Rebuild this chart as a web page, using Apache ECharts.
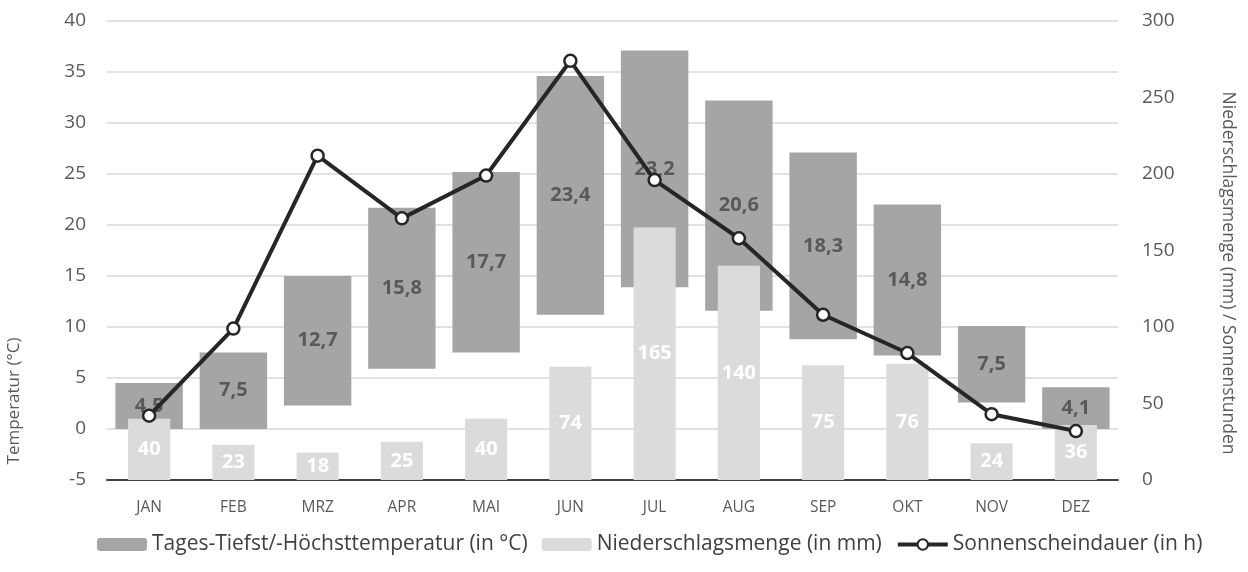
<!DOCTYPE html>
<html>
<head>
<meta charset="utf-8">
<script src="https://cdn.jsdelivr.net/npm/echarts@6/dist/echarts.min.js"></script>
<style>
html,body{margin:0;padding:0;background:#fff;}
#main{width:1248px;height:572px;}
</style>
</head>
<body>
<div id="main"></div>
<script>
// Monate
var months = ['JAN','FEB','MRZ','APR','MAI','JUN','JUL','AUG','SEP','OKT','NOV','DEZ'];
// Tagestiefst (Basis) und Spanne bis Höchsttemperatur
var tempMin = [0, 0, 2.3, 5.9, 7.5, 11.2, 13.9, 11.6, 8.8, 7.2, 2.6, 0];
var tempRange = [4.5, 7.5, 12.7, 15.8, 17.7, 23.4, 23.2, 20.6, 18.3, 14.8, 7.5, 4.1];
// Niederschlag (mm)
var rain = [40, 23, 18, 25, 40, 74, 165, 140, 75, 76, 24, 36];
// Sonnenstunden
var sun = [42, 99, 212, 171, 199, 274, 196, 158, 108, 83, 43, 32];

var font = 'Open Sans';
var myChart = echarts.init(document.getElementById('main'));
var option = {
	animation: false,
	textStyle: { fontFamily: font },
	grid: { left: 107, right: 130, top: 21, bottom: 92 },
	legend: {
		bottom: 12,
		left: 92,
		itemWidth: 50,
		itemHeight: 13,
		itemGap: 14,
		textStyle: { fontSize: 21, color: '#404040', fontFamily: font },
		data: [
			'Tages-Tiefst/-Höchsttemperatur (in °C)',
			'Niederschlagsmenge (in mm)',
			{ name: 'Sonnenscheindauer (in h)', lineStyle: { width: 4 } }
		]
	},
	xAxis: [
		{
			type: 'category',
			data: months,
			axisLine: { onZero: false, lineStyle: { color: '#404040', width: 2 } },
			axisTick: { show: false },
			axisLabel: { color: '#595959', fontSize: 15.5, margin: 20 }
		},
		{
			type: 'category',
			data: months,
			show: false
		}
	],
	yAxis: [
		{
			type: 'value',
			min: -5,
			max: 40,
			interval: 5,
			axisLine: { show: false },
			axisTick: { show: false },
			axisLabel: { color: '#595959', fontSize: 19, margin: 21 },
			splitLine: { lineStyle: { color: '#d9d9d9', width: 1.5 } }
		},
		{
			type: 'value',
			min: 0,
			max: 300,
			interval: 50,
			axisLine: { show: false },
			axisTick: { show: false },
			axisLabel: { color: '#595959', fontSize: 19, margin: 24 },
			splitLine: { show: false }
		}
	],
	graphic: [
		{
			type: 'text',
			x: 14, y: 401,
			rotation: Math.PI / 2,
			style: { text: 'Temperatur (°C)', fill: '#595959', fontSize: 17, fontFamily: font, textAlign: 'center', textVerticalAlign: 'middle' }
		},
		{
			type: 'text',
			x: 1228, y: 273,
			rotation: -Math.PI / 2,
			style: { text: 'Niederschlagsmenge (mm) / Sonnenstunden', fill: '#595959', fontSize: 17.5, fontFamily: font, textAlign: 'center', textVerticalAlign: 'middle' }
		}
	],
	series: [
		{
			name: 'base',
			type: 'bar',
			stack: 'temp',
			xAxisIndex: 0,
			yAxisIndex: 0,
			barWidth: '80%',
			itemStyle: { color: 'transparent' },
			data: tempMin
		},
		{
			name: 'Tages-Tiefst/-Höchsttemperatur (in °C)',
			type: 'bar',
			stack: 'temp',
			xAxisIndex: 0,
			yAxisIndex: 0,
			barWidth: '80%',
			itemStyle: { color: '#a5a5a5' },
			label: {
				show: true,
				position: 'inside',
				color: '#595959',
				fontWeight: 'bold',
				fontSize: 20,
				formatter: function (p) { return String(p.value).replace('.', ','); }
			},
			data: tempRange
		},
		{
			name: 'Niederschlagsmenge (in mm)',
			type: 'bar',
			xAxisIndex: 1,
			yAxisIndex: 1,
			barWidth: '50%',
			itemStyle: { color: '#dbdbdb' },
			label: {
				show: true,
				position: 'inside',
				color: '#ffffff',
				fontWeight: 'bold',
				fontSize: 20
			},
			data: rain
		},
		{
			name: 'Sonnenscheindauer (in h)',
			type: 'line',
			xAxisIndex: 0,
			yAxisIndex: 1,
			symbol: 'circle',
			symbolSize: 12,
			lineStyle: { color: '#262626', width: 4 },
			itemStyle: { color: '#ffffff', borderColor: '#262626', borderWidth: 2.5 },
			z: 5,
			data: sun
		}
	]
};
myChart.setOption(option, true);
</script>
</body>
</html>
